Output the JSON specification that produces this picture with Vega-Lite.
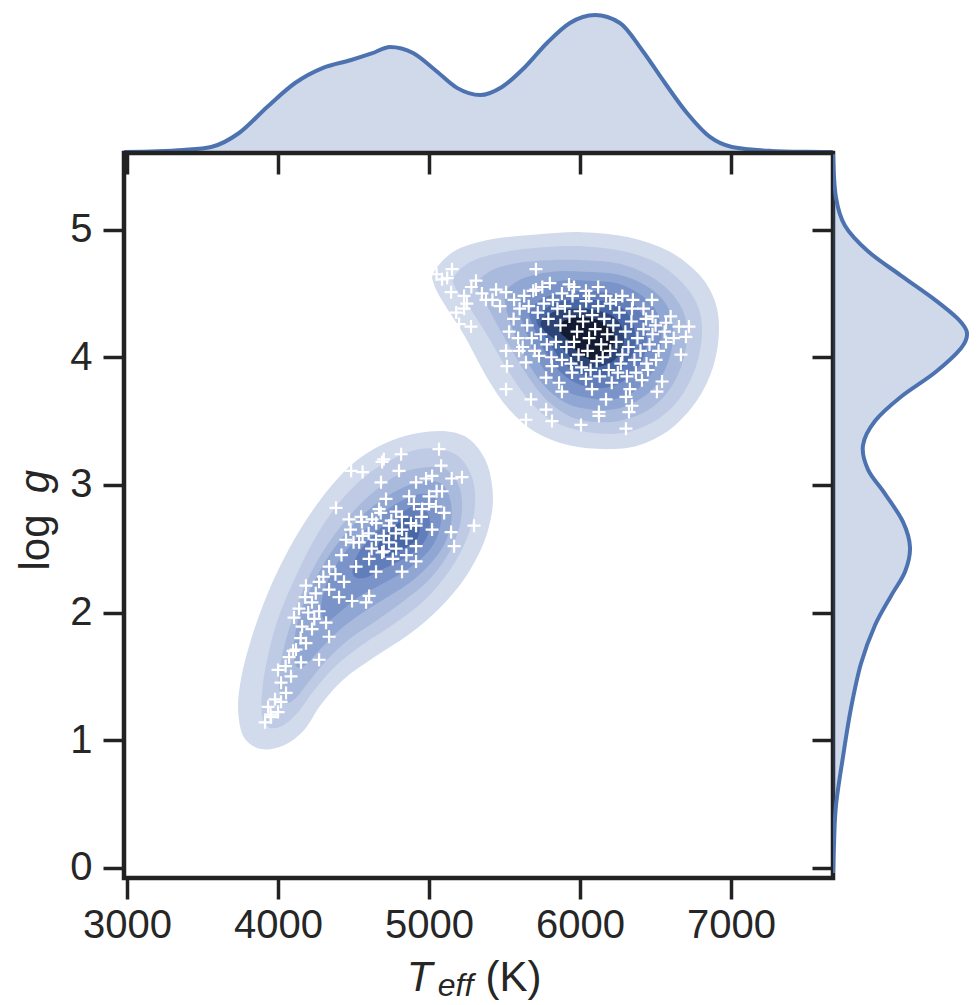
{
"$schema": "https://vega.github.io/schema/vega-lite/v6.json",
"background": "white",
"padding": {"left": 11, "top": 8, "right": 0, "bottom": 0},
"config": {"font": "Liberation Sans", "view": {"stroke": null}, "axis": {"grid": false, "labelColor": "#262626", "titleColor": "#262626", "tickColor": "#222222", "titleFontWeight": "normal", "labelFlush": false, "labelOverlap": false}},
"datasets": {
"contours": [
{"id":"1u","v":1,"i":0,"t":5033,"g":4.67},{"id":"1u","v":1,"i":1,"t":5166,"g":4.83},{"id":"1u","v":1,"i":2,"t":5397,"g":4.92},{"id":"1u","v":1,"i":3,"t":5695,"g":4.96},{"id":"1u","v":1,"i":4,"t":6013,"g":4.98},{"id":"1u","v":1,"i":5,"t":6324,"g":4.94},{"id":"1u","v":1,"i":6,"t":6589,"g":4.83},{"id":"1u","v":1,"i":7,"t":6787,"g":4.65},{"id":"1u","v":1,"i":8,"t":6893,"g":4.44},{"id":"1u","v":1,"i":9,"t":6920,"g":4.20},{"id":"1u","v":1,"i":10,"t":6880,"g":3.92},{"id":"1u","v":1,"i":11,"t":6774,"g":3.66},{"id":"1u","v":1,"i":12,"t":6602,"g":3.44},{"id":"1u","v":1,"i":13,"t":6390,"g":3.31},{"id":"1u","v":1,"i":14,"t":6172,"g":3.28},{"id":"1u","v":1,"i":15,"t":5927,"g":3.31},{"id":"1u","v":1,"i":16,"t":5708,"g":3.41},{"id":"1u","v":1,"i":17,"t":5530,"g":3.59},{"id":"1u","v":1,"i":18,"t":5384,"g":3.84},{"id":"1u","v":1,"i":19,"t":5238,"g":4.16},{"id":"1u","v":1,"i":20,"t":5099,"g":4.42},{"id":"1u","v":1,"i":21,"t":5033,"g":4.57},
{"id":"1l","v":1,"i":0,"t":5113,"g":3.42},{"id":"1l","v":1,"i":1,"t":5265,"g":3.36},{"id":"1l","v":1,"i":2,"t":5371,"g":3.20},{"id":"1l","v":1,"i":3,"t":5417,"g":3.00},{"id":"1l","v":1,"i":4,"t":5417,"g":2.79},{"id":"1l","v":1,"i":5,"t":5357,"g":2.53},{"id":"1l","v":1,"i":6,"t":5232,"g":2.26},{"id":"1l","v":1,"i":7,"t":5066,"g":2.03},{"id":"1l","v":1,"i":8,"t":4868,"g":1.83},{"id":"1l","v":1,"i":9,"t":4636,"g":1.65},{"id":"1l","v":1,"i":10,"t":4437,"g":1.48},{"id":"1l","v":1,"i":11,"t":4285,"g":1.28},{"id":"1l","v":1,"i":12,"t":4173,"g":1.08},{"id":"1l","v":1,"i":13,"t":4040,"g":0.96},{"id":"1l","v":1,"i":14,"t":3888,"g":0.93},{"id":"1l","v":1,"i":15,"t":3775,"g":1.02},{"id":"1l","v":1,"i":16,"t":3736,"g":1.23},{"id":"1l","v":1,"i":17,"t":3755,"g":1.48},{"id":"1l","v":1,"i":18,"t":3822,"g":1.79},{"id":"1l","v":1,"i":19,"t":3928,"g":2.14},{"id":"1l","v":1,"i":20,"t":4073,"g":2.50},{"id":"1l","v":1,"i":21,"t":4259,"g":2.85},{"id":"1l","v":1,"i":22,"t":4470,"g":3.14},{"id":"1l","v":1,"i":23,"t":4682,"g":3.31},{"id":"1l","v":1,"i":24,"t":4901,"g":3.40},
{"id":"2u","v":2,"i":0,"t":5166,"g":4.63},{"id":"2u","v":2,"i":1,"t":5278,"g":4.75},{"id":"2u","v":2,"i":2,"t":5477,"g":4.82},{"id":"2u","v":2,"i":3,"t":5728,"g":4.86},{"id":"2u","v":2,"i":4,"t":6013,"g":4.87},{"id":"2u","v":2,"i":5,"t":6291,"g":4.83},{"id":"2u","v":2,"i":6,"t":6523,"g":4.73},{"id":"2u","v":2,"i":7,"t":6695,"g":4.56},{"id":"2u","v":2,"i":8,"t":6787,"g":4.38},{"id":"2u","v":2,"i":9,"t":6807,"g":4.17},{"id":"2u","v":2,"i":10,"t":6768,"g":3.93},{"id":"2u","v":2,"i":11,"t":6668,"g":3.69},{"id":"2u","v":2,"i":12,"t":6523,"g":3.52},{"id":"2u","v":2,"i":13,"t":6337,"g":3.42},{"id":"2u","v":2,"i":14,"t":6159,"g":3.40},{"id":"2u","v":2,"i":15,"t":5947,"g":3.44},{"id":"2u","v":2,"i":16,"t":5781,"g":3.53},{"id":"2u","v":2,"i":17,"t":5642,"g":3.69},{"id":"2u","v":2,"i":18,"t":5510,"g":3.92},{"id":"2u","v":2,"i":19,"t":5371,"g":4.20},{"id":"2u","v":2,"i":20,"t":5238,"g":4.44},{"id":"2u","v":2,"i":21,"t":5172,"g":4.55},
{"id":"2l","v":2,"i":0,"t":5079,"g":3.28},{"id":"2l","v":2,"i":1,"t":5199,"g":3.22},{"id":"2l","v":2,"i":2,"t":5278,"g":3.08},{"id":"2l","v":2,"i":3,"t":5305,"g":2.92},{"id":"2l","v":2,"i":4,"t":5291,"g":2.73},{"id":"2l","v":2,"i":5,"t":5225,"g":2.51},{"id":"2l","v":2,"i":6,"t":5106,"g":2.28},{"id":"2l","v":2,"i":7,"t":4947,"g":2.07},{"id":"2l","v":2,"i":8,"t":4755,"g":1.90},{"id":"2l","v":2,"i":9,"t":4550,"g":1.74},{"id":"2l","v":2,"i":10,"t":4371,"g":1.57},{"id":"2l","v":2,"i":11,"t":4232,"g":1.38},{"id":"2l","v":2,"i":12,"t":4126,"g":1.21},{"id":"2l","v":2,"i":13,"t":4027,"g":1.11},{"id":"2l","v":2,"i":14,"t":3941,"g":1.10},{"id":"2l","v":2,"i":15,"t":3894,"g":1.19},{"id":"2l","v":2,"i":16,"t":3894,"g":1.38},{"id":"2l","v":2,"i":17,"t":3928,"g":1.63},{"id":"2l","v":2,"i":18,"t":3994,"g":1.93},{"id":"2l","v":2,"i":19,"t":4101,"g":2.24},{"id":"2l","v":2,"i":20,"t":4239,"g":2.57},{"id":"2l","v":2,"i":21,"t":4404,"g":2.86},{"id":"2l","v":2,"i":22,"t":4590,"g":3.08},{"id":"2l","v":2,"i":23,"t":4788,"g":3.22},{"id":"2l","v":2,"i":24,"t":4934,"g":3.28},
{"id":"3u","v":3,"i":0,"t":5318,"g":4.59},{"id":"3u","v":3,"i":1,"t":5430,"g":4.69},{"id":"3u","v":3,"i":2,"t":5596,"g":4.74},{"id":"3u","v":3,"i":3,"t":5794,"g":4.76},{"id":"3u","v":3,"i":4,"t":6026,"g":4.76},{"id":"3u","v":3,"i":5,"t":6271,"g":4.73},{"id":"3u","v":3,"i":6,"t":6470,"g":4.63},{"id":"3u","v":3,"i":7,"t":6615,"g":4.49},{"id":"3u","v":3,"i":8,"t":6695,"g":4.32},{"id":"3u","v":3,"i":9,"t":6708,"g":4.14},{"id":"3u","v":3,"i":10,"t":6668,"g":3.92},{"id":"3u","v":3,"i":11,"t":6576,"g":3.72},{"id":"3u","v":3,"i":12,"t":6443,"g":3.58},{"id":"3u","v":3,"i":13,"t":6291,"g":3.51},{"id":"3u","v":3,"i":14,"t":6145,"g":3.49},{"id":"3u","v":3,"i":15,"t":5967,"g":3.52},{"id":"3u","v":3,"i":16,"t":5834,"g":3.61},{"id":"3u","v":3,"i":17,"t":5715,"g":3.75},{"id":"3u","v":3,"i":18,"t":5596,"g":3.96},{"id":"3u","v":3,"i":19,"t":5477,"g":4.20},{"id":"3u","v":3,"i":20,"t":5371,"g":4.43},{"id":"3u","v":3,"i":21,"t":5324,"g":4.52},
{"id":"3l","v":3,"i":0,"t":5053,"g":3.14},{"id":"3l","v":3,"i":1,"t":5146,"g":3.09},{"id":"3l","v":3,"i":2,"t":5205,"g":2.97},{"id":"3l","v":3,"i":3,"t":5218,"g":2.81},{"id":"3l","v":3,"i":4,"t":5192,"g":2.63},{"id":"3l","v":3,"i":5,"t":5113,"g":2.43},{"id":"3l","v":3,"i":6,"t":4987,"g":2.24},{"id":"3l","v":3,"i":7,"t":4821,"g":2.08},{"id":"3l","v":3,"i":8,"t":4643,"g":1.93},{"id":"3l","v":3,"i":9,"t":4470,"g":1.79},{"id":"3l","v":3,"i":10,"t":4325,"g":1.63},{"id":"3l","v":3,"i":11,"t":4205,"g":1.46},{"id":"3l","v":3,"i":12,"t":4126,"g":1.34},{"id":"3l","v":3,"i":13,"t":4060,"g":1.29},{"id":"3l","v":3,"i":14,"t":4014,"g":1.35},{"id":"3l","v":3,"i":15,"t":4007,"g":1.51},{"id":"3l","v":3,"i":16,"t":4040,"g":1.73},{"id":"3l","v":3,"i":17,"t":4106,"g":1.99},{"id":"3l","v":3,"i":18,"t":4205,"g":2.28},{"id":"3l","v":3,"i":19,"t":4338,"g":2.55},{"id":"3l","v":3,"i":20,"t":4497,"g":2.79},{"id":"3l","v":3,"i":21,"t":4669,"g":2.98},{"id":"3l","v":3,"i":22,"t":4854,"g":3.11},
{"id":"4u","v":4,"i":0,"t":5516,"g":4.53},{"id":"4u","v":4,"i":1,"t":5629,"g":4.62},{"id":"4u","v":4,"i":2,"t":5814,"g":4.67},{"id":"4u","v":4,"i":3,"t":6026,"g":4.67},{"id":"4u","v":4,"i":4,"t":6245,"g":4.65},{"id":"4u","v":4,"i":5,"t":6423,"g":4.57},{"id":"4u","v":4,"i":6,"t":6549,"g":4.45},{"id":"4u","v":4,"i":7,"t":6609,"g":4.30},{"id":"4u","v":4,"i":8,"t":6615,"g":4.13},{"id":"4u","v":4,"i":9,"t":6576,"g":3.94},{"id":"4u","v":4,"i":10,"t":6490,"g":3.76},{"id":"4u","v":4,"i":11,"t":6364,"g":3.65},{"id":"4u","v":4,"i":12,"t":6218,"g":3.59},{"id":"4u","v":4,"i":13,"t":6072,"g":3.59},{"id":"4u","v":4,"i":14,"t":5927,"g":3.63},{"id":"4u","v":4,"i":15,"t":5801,"g":3.73},{"id":"4u","v":4,"i":16,"t":5695,"g":3.88},{"id":"4u","v":4,"i":17,"t":5602,"g":4.08},{"id":"4u","v":4,"i":18,"t":5530,"g":4.30},{"id":"4u","v":4,"i":19,"t":5503,"g":4.44},
{"id":"4l","v":4,"i":0,"t":5013,"g":3.03},{"id":"4l","v":4,"i":1,"t":5100,"g":2.99},{"id":"4l","v":4,"i":2,"t":5145,"g":2.86},{"id":"4l","v":4,"i":3,"t":5145,"g":2.70},{"id":"4l","v":4,"i":4,"t":5100,"g":2.53},{"id":"4l","v":4,"i":5,"t":5000,"g":2.37},{"id":"4l","v":4,"i":6,"t":4868,"g":2.23},{"id":"4l","v":4,"i":7,"t":4709,"g":2.11},{"id":"4l","v":4,"i":8,"t":4550,"g":1.99},{"id":"4l","v":4,"i":9,"t":4404,"g":1.86},{"id":"4l","v":4,"i":10,"t":4285,"g":1.72},{"id":"4l","v":4,"i":11,"t":4185,"g":1.59},{"id":"4l","v":4,"i":12,"t":4120,"g":1.58},{"id":"4l","v":4,"i":13,"t":4105,"g":1.74},{"id":"4l","v":4,"i":14,"t":4140,"g":1.97},{"id":"4l","v":4,"i":15,"t":4225,"g":2.21},{"id":"4l","v":4,"i":16,"t":4345,"g":2.46},{"id":"4l","v":4,"i":17,"t":4500,"g":2.69},{"id":"4l","v":4,"i":18,"t":4670,"g":2.87},{"id":"4l","v":4,"i":19,"t":4848,"g":2.99},
{"id":"5u","v":5,"i":0,"t":5616,"g":4.45},{"id":"5u","v":5,"i":1,"t":5715,"g":4.55},{"id":"5u","v":5,"i":2,"t":5874,"g":4.60},{"id":"5u","v":5,"i":3,"t":6059,"g":4.60},{"id":"5u","v":5,"i":4,"t":6245,"g":4.58},{"id":"5u","v":5,"i":5,"t":6390,"g":4.50},{"id":"5u","v":5,"i":6,"t":6490,"g":4.39},{"id":"5u","v":5,"i":7,"t":6536,"g":4.25},{"id":"5u","v":5,"i":8,"t":6536,"g":4.09},{"id":"5u","v":5,"i":9,"t":6496,"g":3.92},{"id":"5u","v":5,"i":10,"t":6410,"g":3.78},{"id":"5u","v":5,"i":11,"t":6291,"g":3.69},{"id":"5u","v":5,"i":12,"t":6152,"g":3.67},{"id":"5u","v":5,"i":13,"t":6013,"g":3.69},{"id":"5u","v":5,"i":14,"t":5887,"g":3.75},{"id":"5u","v":5,"i":15,"t":5781,"g":3.87},{"id":"5u","v":5,"i":16,"t":5702,"g":4.03},{"id":"5u","v":5,"i":17,"t":5636,"g":4.22},{"id":"5u","v":5,"i":18,"t":5602,"g":4.35},
{"id":"5l","v":5,"i":0,"t":4967,"g":2.93},{"id":"5l","v":5,"i":1,"t":5050,"g":2.88},{"id":"5l","v":5,"i":2,"t":5080,"g":2.74},{"id":"5l","v":5,"i":3,"t":5050,"g":2.58},{"id":"5l","v":5,"i":4,"t":4965,"g":2.44},{"id":"5l","v":5,"i":5,"t":4834,"g":2.32},{"id":"5l","v":5,"i":6,"t":4682,"g":2.22},{"id":"5l","v":5,"i":7,"t":4530,"g":2.12},{"id":"5l","v":5,"i":8,"t":4405,"g":2.00},{"id":"5l","v":5,"i":9,"t":4320,"g":1.93},{"id":"5l","v":5,"i":10,"t":4285,"g":2.03},{"id":"5l","v":5,"i":11,"t":4320,"g":2.22},{"id":"5l","v":5,"i":12,"t":4410,"g":2.42},{"id":"5l","v":5,"i":13,"t":4545,"g":2.61},{"id":"5l","v":5,"i":14,"t":4695,"g":2.78},{"id":"5l","v":5,"i":15,"t":4841,"g":2.89},
{"id":"6u","v":6,"i":0,"t":5675,"g":4.38},{"id":"6u","v":6,"i":1,"t":5768,"g":4.47},{"id":"6u","v":6,"i":2,"t":5914,"g":4.51},{"id":"6u","v":6,"i":3,"t":6072,"g":4.52},{"id":"6u","v":6,"i":4,"t":6231,"g":4.49},{"id":"6u","v":6,"i":5,"t":6350,"g":4.42},{"id":"6u","v":6,"i":6,"t":6423,"g":4.31},{"id":"6u","v":6,"i":7,"t":6443,"g":4.17},{"id":"6u","v":6,"i":8,"t":6430,"g":4.03},{"id":"6u","v":6,"i":9,"t":6377,"g":3.91},{"id":"6u","v":6,"i":10,"t":6284,"g":3.81},{"id":"6u","v":6,"i":11,"t":6165,"g":3.76},{"id":"6u","v":6,"i":12,"t":6039,"g":3.77},{"id":"6u","v":6,"i":13,"t":5927,"g":3.83},{"id":"6u","v":6,"i":14,"t":5834,"g":3.93},{"id":"6u","v":6,"i":15,"t":5761,"g":4.06},{"id":"6u","v":6,"i":16,"t":5702,"g":4.21},{"id":"6u","v":6,"i":17,"t":5669,"g":4.31},
{"id":"6l","v":6,"i":0,"t":4921,"g":2.84},{"id":"6l","v":6,"i":1,"t":4995,"g":2.77},{"id":"6l","v":6,"i":2,"t":5000,"g":2.64},{"id":"6l","v":6,"i":3,"t":4945,"g":2.52},{"id":"6l","v":6,"i":4,"t":4828,"g":2.42},{"id":"6l","v":6,"i":5,"t":4695,"g":2.34},{"id":"6l","v":6,"i":6,"t":4570,"g":2.27},{"id":"6l","v":6,"i":7,"t":4495,"g":2.30},{"id":"6l","v":6,"i":8,"t":4525,"g":2.45},{"id":"6l","v":6,"i":9,"t":4625,"g":2.60},{"id":"6l","v":6,"i":10,"t":4745,"g":2.72},{"id":"6l","v":6,"i":11,"t":4841,"g":2.80},
{"id":"7u","v":7,"i":0,"t":5715,"g":4.31},{"id":"7u","v":7,"i":1,"t":5808,"g":4.41},{"id":"7u","v":7,"i":2,"t":5940,"g":4.45},{"id":"7u","v":7,"i":3,"t":6086,"g":4.45},{"id":"7u","v":7,"i":4,"t":6218,"g":4.42},{"id":"7u","v":7,"i":5,"t":6311,"g":4.35},{"id":"7u","v":7,"i":6,"t":6357,"g":4.24},{"id":"7u","v":7,"i":7,"t":6364,"g":4.12},{"id":"7u","v":7,"i":8,"t":6337,"g":4.00},{"id":"7u","v":7,"i":9,"t":6264,"g":3.91},{"id":"7u","v":7,"i":10,"t":6159,"g":3.85},{"id":"7u","v":7,"i":11,"t":6046,"g":3.85},{"id":"7u","v":7,"i":12,"t":5940,"g":3.91},{"id":"7u","v":7,"i":13,"t":5861,"g":4.00},{"id":"7u","v":7,"i":14,"t":5794,"g":4.12},{"id":"7u","v":7,"i":15,"t":5735,"g":4.22},
{"id":"7l","v":7,"i":0,"t":4868,"g":2.75},{"id":"7l","v":7,"i":1,"t":4935,"g":2.68},{"id":"7l","v":7,"i":2,"t":4915,"g":2.57},{"id":"7l","v":7,"i":3,"t":4815,"g":2.49},{"id":"7l","v":7,"i":4,"t":4710,"g":2.44},{"id":"7l","v":7,"i":5,"t":4660,"g":2.51},{"id":"7l","v":7,"i":6,"t":4715,"g":2.62},{"id":"7l","v":7,"i":7,"t":4795,"g":2.70},
{"id":"8u","v":8,"i":0,"t":5741,"g":4.28},{"id":"8u","v":8,"i":1,"t":5834,"g":4.36},{"id":"8u","v":8,"i":2,"t":5960,"g":4.38},{"id":"8u","v":8,"i":3,"t":6099,"g":4.37},{"id":"8u","v":8,"i":4,"t":6205,"g":4.33},{"id":"8u","v":8,"i":5,"t":6271,"g":4.25},{"id":"8u","v":8,"i":6,"t":6291,"g":4.14},{"id":"8u","v":8,"i":7,"t":6264,"g":4.03},{"id":"8u","v":8,"i":8,"t":6192,"g":3.95},{"id":"8u","v":8,"i":9,"t":6086,"g":3.92},{"id":"8u","v":8,"i":10,"t":5980,"g":3.95},{"id":"8u","v":8,"i":11,"t":5900,"g":4.05},{"id":"8u","v":8,"i":12,"t":5834,"g":4.14},{"id":"8u","v":8,"i":13,"t":5768,"g":4.20},
{"id":"9u","v":9,"i":0,"t":5861,"g":4.26},{"id":"9u","v":9,"i":1,"t":5960,"g":4.31},{"id":"9u","v":9,"i":2,"t":6092,"g":4.30},{"id":"9u","v":9,"i":3,"t":6192,"g":4.24},{"id":"9u","v":9,"i":4,"t":6225,"g":4.13},{"id":"9u","v":9,"i":5,"t":6178,"g":4.02},{"id":"9u","v":9,"i":6,"t":6086,"g":3.98},{"id":"9u","v":9,"i":7,"t":5993,"g":4.03},{"id":"9u","v":9,"i":8,"t":5927,"g":4.13},{"id":"9u","v":9,"i":9,"t":5874,"g":4.19}
],
"pts": [
{"t":5152,"g":4.69},{"t":5086,"g":4.61},{"t":5146,"g":4.51},{"t":5232,"g":4.48},{"t":5232,"g":4.38},{"t":5199,"g":4.26},{"t":5278,"g":4.24},{"t":5311,"g":4.60},{"t":5377,"g":4.45},{"t":5444,"g":4.53},{"t":5510,"g":4.51},{"t":5563,"g":4.45},{"t":5708,"g":4.69},{"t":5708,"g":4.53},{"t":5927,"g":4.57},{"t":6039,"g":4.52},{"t":6172,"g":4.48},{"t":6238,"g":4.45},{"t":6476,"g":4.45},{"t":6344,"g":4.38},{"t":6437,"g":4.30},{"t":6569,"g":4.27},{"t":6655,"g":4.24},{"t":6721,"g":4.24},{"t":6701,"g":4.16},{"t":6668,"g":4.02},{"t":6569,"g":4.12},{"t":6503,"g":3.98},{"t":5530,"g":4.20},{"t":5510,"g":4.05},{"t":5516,"g":3.93},{"t":5596,"g":4.05},{"t":5642,"g":3.96},{"t":5728,"g":4.01},{"t":5775,"g":3.84},{"t":5814,"g":3.93},{"t":5861,"g":3.80},{"t":5947,"g":3.88},{"t":6039,"g":3.83},{"t":6079,"g":3.75},{"t":6172,"g":3.67},{"t":6125,"g":3.57},{"t":6304,"g":3.69},{"t":6344,"g":3.62},{"t":6543,"g":3.81},{"t":6509,"g":3.73},{"t":5510,"g":3.75},{"t":5675,"g":3.67},{"t":5775,"g":3.59},{"t":5880,"g":3.73},{"t":5642,"g":3.51},{"t":5814,"g":3.50},{"t":6125,"g":3.54},{"t":6304,"g":3.44},{"t":6324,"g":3.57},{"t":6006,"g":3.47},
{"t":5720,"g":4.35},{"t":5760,"g":4.42},{"t":5790,"g":4.30},{"t":5820,"g":4.45},{"t":5850,"g":4.38},{"t":5870,"g":4.25},{"t":5900,"g":4.40},{"t":5930,"g":4.32},{"t":5950,"g":4.48},{"t":5980,"g":4.20},{"t":6000,"g":4.36},{"t":6020,"g":4.28},{"t":6040,"g":4.44},{"t":6060,"g":4.15},{"t":6080,"g":4.33},{"t":6100,"g":4.22},{"t":6120,"g":4.40},{"t":6140,"g":4.10},{"t":6160,"g":4.30},{"t":6180,"g":4.18},{"t":6200,"g":4.05},{"t":6220,"g":4.25},{"t":6240,"g":4.12},{"t":6260,"g":4.35},{"t":6280,"g":4.02},{"t":6300,"g":4.20},{"t":6320,"g":4.08},{"t":6340,"g":4.28},{"t":6360,"g":3.98},{"t":6380,"g":4.15},{"t":6400,"g":4.05},{"t":6420,"g":4.22},{"t":6440,"g":3.95},{"t":6460,"g":4.10},{"t":6480,"g":4.18},{"t":6500,"g":4.25},{"t":6520,"g":4.05},{"t":6560,"g":4.20},{"t":6600,"g":4.32},{"t":6620,"g":4.15},
{"t":5650,"g":4.25},{"t":5680,"g":4.15},{"t":5700,"g":4.05},{"t":5740,"g":4.18},{"t":5780,"g":4.10},{"t":5810,"g":4.00},{"t":5840,"g":4.12},{"t":5880,"g":3.98},{"t":5910,"g":4.08},{"t":5940,"g":3.95},{"t":5960,"g":4.12},{"t":5990,"g":4.02},{"t":6010,"g":3.92},{"t":6050,"g":4.05},{"t":6070,"g":3.90},{"t":6110,"g":3.97},{"t":6130,"g":3.85},{"t":6150,"g":4.00},{"t":6190,"g":3.90},{"t":6210,"g":3.80},{"t":6250,"g":3.88},{"t":6270,"g":3.95},{"t":6310,"g":3.85},{"t":6330,"g":3.75},{"t":6370,"g":3.88},{"t":6410,"g":3.82},{"t":6450,"g":3.90},
{"t":5600,"g":4.38},{"t":5630,"g":4.48},{"t":5660,"g":4.40},{"t":5690,"g":4.52},{"t":5750,"g":4.55},{"t":5800,"g":4.58},{"t":5880,"g":4.50},{"t":5960,"g":4.55},{"t":6060,"g":4.48},{"t":6120,"g":4.55},{"t":6200,"g":4.42},{"t":6280,"g":4.48},{"t":6350,"g":4.45},{"t":6420,"g":4.38},{"t":6480,"g":4.32},
{"t":5560,"g":4.30},{"t":5590,"g":4.15},{"t":5620,"g":4.08},{"t":5470,"g":4.40},{"t":5420,"g":4.45},{"t":5350,"g":4.50},{"t":5280,"g":4.55},{"t":5250,"g":4.42},{"t":5180,"g":4.35},{"t":5120,"g":4.62},{"t":5050,"g":4.65},
{"t":5066,"g":3.28},{"t":4815,"g":3.24},{"t":4689,"g":3.18},{"t":4801,"g":3.11},{"t":4484,"g":3.11},{"t":5218,"g":3.06},{"t":5020,"g":3.07},{"t":4914,"g":3.02},{"t":4682,"g":3.02},{"t":5086,"g":2.95},{"t":5000,"g":2.91},{"t":4868,"g":2.91},{"t":4715,"g":2.89},{"t":4384,"g":2.82},{"t":5046,"g":2.83},{"t":4954,"g":2.81},{"t":4782,"g":2.79},{"t":4669,"g":2.81},{"t":4470,"g":2.73},{"t":4556,"g":2.71},{"t":4623,"g":2.73},{"t":4735,"g":2.68},{"t":4821,"g":2.65},{"t":4914,"g":2.68},{"t":5020,"g":2.65},{"t":5298,"g":2.68},{"t":5146,"g":2.63},{"t":5166,"g":2.52},{"t":4450,"g":2.57},{"t":4537,"g":2.55},{"t":4649,"g":2.57},{"t":4735,"g":2.55},{"t":4782,"g":2.50},{"t":4689,"g":2.47},{"t":4603,"g":2.42},{"t":4914,"g":2.52},{"t":4914,"g":2.40},{"t":4821,"g":2.32},{"t":4649,"g":2.32},{"t":4517,"g":2.36},{"t":4338,"g":2.36},{"t":4272,"g":2.24},{"t":4185,"g":2.21},{"t":4338,"g":2.18},{"t":4437,"g":2.24},{"t":4404,"g":2.12},{"t":4490,"g":2.09},{"t":4583,"g":2.08},{"t":4603,"g":2.13},{"t":4225,"g":2.08},{"t":4139,"g":2.03},{"t":4272,"g":2.01},{"t":4318,"g":1.92},{"t":4159,"g":1.89},{"t":4106,"g":1.96},{"t":4338,"g":1.81},{"t":4225,"g":1.87},{"t":4185,"g":1.76},{"t":4119,"g":1.71},{"t":4073,"g":1.65},{"t":4152,"g":1.61},{"t":4272,"g":1.63},{"t":4086,"g":1.50},{"t":4020,"g":1.45},{"t":4053,"g":1.37},{"t":3980,"g":1.32},{"t":3934,"g":1.26},{"t":4000,"g":1.22},{"t":3954,"g":1.18},{"t":3914,"g":1.14},
{"t":4600,"g":2.62},{"t":4650,"g":2.70},{"t":4700,"g":2.60},{"t":4750,"g":2.72},{"t":4780,"g":2.62},{"t":4820,"g":2.75},{"t":4850,"g":2.58},{"t":4880,"g":2.70},{"t":4700,"g":2.48},{"t":4760,"g":2.42},{"t":4560,"g":2.60},{"t":4620,"g":2.50},{"t":4680,"g":2.78},{"t":4900,"g":2.85},{"t":4950,"g":2.75},{"t":5000,"g":2.85},{"t":5050,"g":2.95},{"t":4980,"g":3.05},{"t":5100,"g":2.78},{"t":4850,"g":2.45},{"t":4420,"g":2.45},{"t":4380,"g":2.30},{"t":4300,"g":2.28},{"t":4250,"g":2.15},{"t":4200,"g":2.00},{"t":4180,"g":2.12},{"t":4240,"g":1.95},{"t":4150,"g":1.80},{"t":4100,"g":1.70},{"t":4000,"g":1.55},{"t":4050,"g":1.58},{"t":3950,"g":1.20},{"t":4020,"g":1.30},{"t":4500,"g":2.55},{"t":4550,"g":2.75},{"t":4480,"g":2.65},{"t":5150,"g":3.05},{"t":5080,"g":3.15},{"t":4560,"g":3.10},{"t":4700,"g":3.20}
],
"topkde": [
{"t":2981,"d":0.004},{"t":3200,"d":0.007},{"t":3371,"d":0.013},{"t":3557,"d":0.026},{"t":3742,"d":0.086},{"t":3928,"d":0.198},{"t":4113,"d":0.301},{"t":4298,"d":0.366},{"t":4484,"d":0.400},{"t":4620,"d":0.428},{"t":4742,"d":0.456},{"t":4894,"d":0.430},{"t":5040,"d":0.357},{"t":5185,"d":0.280},{"t":5338,"d":0.249},{"t":5483,"d":0.284},{"t":5636,"d":0.370},{"t":5781,"d":0.473},{"t":5933,"d":0.559},{"t":6099,"d":0.593},{"t":6264,"d":0.559},{"t":6410,"d":0.443},{"t":6562,"d":0.301},{"t":6708,"d":0.172},{"t":6860,"d":0.069},{"t":7006,"d":0.026},{"t":7264,"d":0.009},{"t":7500,"d":0.005},{"t":7674,"d":0.004}
],
"rightkde": [
{"g":5.59,"d":0.0},{"g":5.25,"d":0.015},{"g":5.03,"d":0.06},{"g":4.83,"d":0.175},{"g":4.64,"d":0.34},{"g":4.45,"d":0.51},{"g":4.30,"d":0.625},{"g":4.19,"d":0.67},{"g":4.07,"d":0.64},{"g":3.88,"d":0.51},{"g":3.69,"d":0.34},{"g":3.50,"d":0.21},{"g":3.31,"d":0.15},{"g":3.12,"d":0.175},{"g":2.93,"d":0.26},{"g":2.71,"d":0.35},{"g":2.51,"d":0.385},{"g":2.32,"d":0.36},{"g":2.13,"d":0.29},{"g":1.90,"d":0.21},{"g":1.60,"d":0.14},{"g":1.25,"d":0.09},{"g":0.87,"d":0.05},{"g":0.49,"d":0.015},{"g":0.19,"d":0.005},{"g":-0.04,"d":0.0}
]
},
"columns": 2,
"spacing": 0,
"bounds": "flush",
"align": "each",
"concat": [
{
"width": 709, "height": 145,
"data": {"name": "topkde"},
"encoding": {
"x": {"field": "t", "type": "quantitative", "scale": {"domain": [2980, 7675], "nice": false, "zero": false},
 "axis": {"orient": "bottom", "values": [3000, 4000, 5000, 6000, 7000], "labels": false, "domain": false, "ticks": true, "tickSize": 21, "tickWidth": 3.5, "title": "eff", "titleFontSize": 32, "titleFontStyle": "italic", "titleX": 331, "titleY": 842, "titleAlign": "center", "titleBaseline": "alphabetic", "titleAngle": 0}},
"y": {"field": "d", "type": "quantitative", "stack": null, "scale": {"domain": [0, 0.6235], "nice": false},
 "axis": {"orient": "left", "ticks": false, "labels": false, "domain": false, "title": "g", "titleFontSize": 42, "titleFontStyle": "italic", "titleAngle": 270, "titleX": -76, "titleY": 473, "titleAlign": "center", "titleBaseline": "alphabetic"}}
},
"layer": [
{"mark": {"type": "area", "interpolate": "monotone", "color": "#4c72b0", "fillOpacity": 0.27, "clip": true}},
{"mark": {"type": "line", "interpolate": "monotone", "color": "#4c72b0", "strokeWidth": 4, "clip": true}}
]
},
{
"width": 140, "height": 145,
"data": {"values": [{}]},
"mark": {"type": "point", "opacity": 0}
},
{
"width": 709, "height": 725,
"view": {"stroke": "#222222", "strokeWidth": 4.5},
"layer": [
{
"data": {"name": "contours"},
"mark": {"type": "line", "interpolate": "cardinal-closed", "strokeWidth": 0, "clip": true},
"encoding": {
"x": {"field": "t", "type": "quantitative", "scale": {"domain": [2980, 7675], "nice": false, "zero": false},
 "axis": {"values": [3000, 4000, 5000, 6000, 7000], "format": "d", "domain": false, "tickSize": 21, "tickWidth": 3.5, "labelFontSize": 40, "labelPadding": 6, "title": "T", "titleFontSize": 42, "titleFontStyle": "italic", "titleX": 295, "titleY": 112, "titleAlign": "center", "titleBaseline": "alphabetic"}},
"y": {"field": "g", "type": "quantitative", "scale": {"domain": [-0.08, 5.6], "nice": false, "zero": false},
 "axis": {"values": [0, 1, 2, 3, 4, 5], "format": "d", "domain": false, "tickSize": 21, "tickWidth": 3.5, "labelFontSize": 40, "labelPadding": 11, "title": "log", "titleFontSize": 42, "titleAngle": 270, "titleX": -76, "titleY": 389, "titleAlign": "center", "titleBaseline": "alphabetic"}},
"fill": {"field": "v", "type": "ordinal", "scale": {"domain": [1, 2, 3, 4, 5, 6, 7, 8, 9], "range": ["#d2dbec", "#bfcbe5", "#a9badd", "#91a7d3", "#7a93c8", "#617ebb", "#4766a5", "#2b4475", "#121b31"]}, "legend": null},
"detail": {"field": "id", "type": "nominal"},
"order": {"field": "i", "type": "quantitative"}
}
},
{
"data": {"name": "pts"},
"mark": {"type": "point", "shape": "M-1,0L1,0M0,-1L0,1", "filled": false, "color": "white", "stroke": "white", "strokeWidth": 2.2, "size": 169, "opacity": 1},
"encoding": {
"x": {"field": "t", "type": "quantitative"},
"y": {"field": "g", "type": "quantitative"}
}
}
]
},
{
"width": 140, "height": 725,
"data": {"name": "rightkde"},
"encoding": {
"y": {"field": "g", "type": "quantitative", "scale": {"domain": [-0.08, 5.6], "nice": false, "zero": false},
 "axis": {"orient": "left", "values": [0, 1, 2, 3, 4, 5], "labels": false, "domain": false, "ticks": true, "tickSize": 21, "tickWidth": 3.5, "title": "(K)", "titleFontSize": 42, "titleFontStyle": "normal", "titleAngle": 0, "titleX": -320, "titleY": 837, "titleAlign": "center", "titleBaseline": "alphabetic"}},
"x": {"field": "d", "type": "quantitative", "stack": null, "scale": {"domain": [0, 0.7], "nice": false}, "axis": null}
},
"layer": [
{"mark": {"type": "area", "orient": "horizontal", "interpolate": "cardinal", "color": "#4c72b0", "fillOpacity": 0.27, "clip": true}},
{"mark": {"type": "line", "interpolate": "cardinal", "color": "#4c72b0", "strokeWidth": 4, "clip": true}, "encoding": {"order": {"field": "g", "type": "quantitative"}}}
]
}
]
}
